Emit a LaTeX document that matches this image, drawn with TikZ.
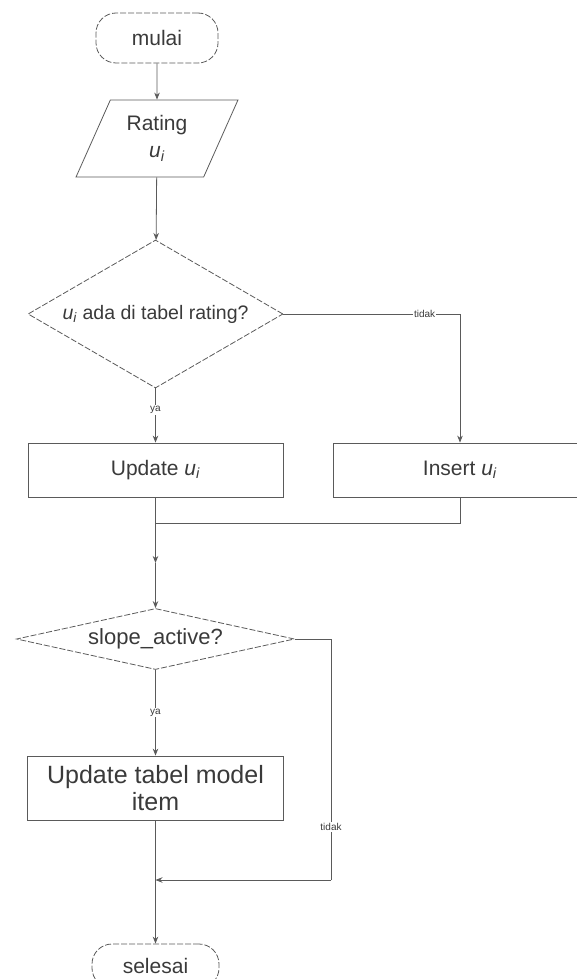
\documentclass[tikz,border=0pt]{standalone}
\usepackage{fontspec}
\setmainfont{Liberation Sans}
\usetikzlibrary{shapes.geometric,arrows.meta}
\newcommand{\myui}{\textit{u}\textsubscript{\textit{i}}}
\definecolor{lin}{HTML}{5A5A5A}
\definecolor{txt}{HTML}{3A3A3A}
\tikzset{
  base/.style={draw=lin, line width=0.8pt, text=txt, inner sep=0pt, align=center,
    font=\fontsize{21}{27}\selectfont},
  term/.style={base, rounded corners=20pt, dash pattern=on 6pt off 2pt},
  procbox/.style={base},
  iobox/.style={base, trapezium, trapezium left angle=64, trapezium right angle=116,
    trapezium stretches=true},
  decis/.style={base, diamond, dash pattern=on 6pt off 2pt},
  conn/.style={draw=lin, line width=0.8pt},
  arr/.style={conn, -{Stealth[length=7pt,width=5.5pt]}},
  lbl/.style={fill=white, text=txt, inner sep=1pt, font=\fontsize{10}{12}\selectfont}
}
\begin{document}
\begin{tikzpicture}[x=1pt,y=-1pt]
\useasboundingbox (0,0) rectangle (576,979);
\node[term, minimum width=122pt, minimum height=50pt] (mulai) at (157,38) {mulai};
\node[iobox, minimum width=162pt, minimum height=77pt] (rating) at (157,138.5) {Rating\\\myui};
\node[decis, aspect=1.72, minimum width=255pt, minimum height=148pt, font=\fontsize{19.5}{23}\selectfont] (d1) at (155.5,314) {\myui{} ada di tabel rating?};
\node[procbox, minimum width=255pt, minimum height=54pt] (upd) at (155.5,470) {Update \myui};
\node[procbox, minimum width=254pt, minimum height=54pt] (ins) at (460,470) {Insert \myui};
\coordinate (m1) at (155.5,523);
\coordinate (m2) at (155.5,563);
\node[decis, aspect=4.56, minimum width=278pt, minimum height=61pt, font=\fontsize{22}{26}\selectfont] (d2) at (155.5,639) {slope\_active?};
\node[procbox, minimum width=256pt, minimum height=64pt, font=\fontsize{25}{27}\selectfont] (ut) at (155.5,788) {Update tabel model\\item};
\node[term, minimum width=127pt, minimum height=44pt] (end) at (155.5,966) {selesai};
\coordinate (t1) at (460,314);
\coordinate (t2) at (331,639);
\coordinate (t3) at (331,880);
\coordinate (m3) at (155.5,880);

\draw[arr] (mulai) -- (rating);
\draw[arr] (rating) -- (d1);
\draw[arr] (d1) -- node[lbl, pos=0.4] {ya} (upd);
\draw[conn] (d1.east) -- node[lbl, pos=0.8] {tidak} (t1);
\draw[arr] (t1) -- (ins);
\draw[conn] (ins.south) |- (m1);
\draw[arr] (upd) -- (m2);
\draw[arr] (m2) -- (d2);
\draw[arr] (d2) -- node[lbl, pos=0.5] {ya} (ut);
\draw[conn] (d2.east) -- (t2) -- node[lbl, pos=0.78] {tidak} (t3);
\draw[arr] (t3) -- (m3);
\draw[arr] (ut) -- (end);
\end{tikzpicture}
\end{document}
